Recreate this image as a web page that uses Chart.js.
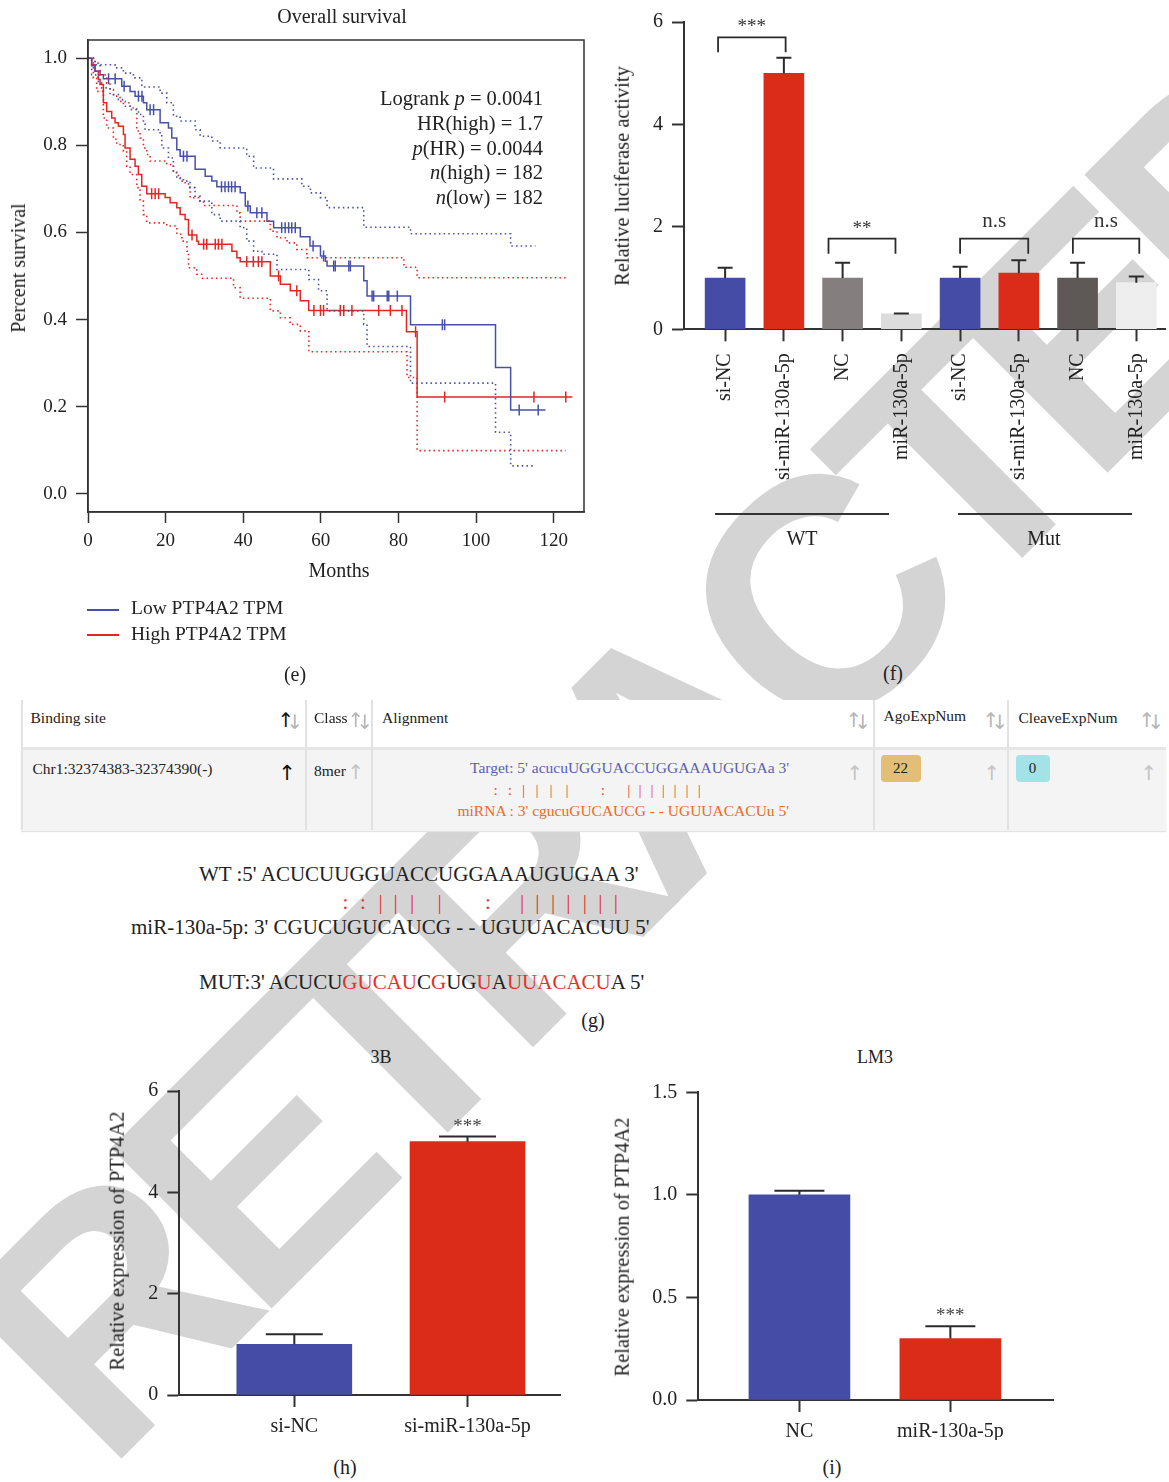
<!DOCTYPE html>
<html>
<head>
<meta charset="utf-8">
<script src="https://cdn.jsdelivr.net/npm/chart.js@4.4.1/dist/chart.umd.min.js"></script>
<style>
  html, body { margin: 0; padding: 0; background: #fff; }
  #page { position: relative; width: 1169px; height: 1482px; overflow: hidden; font-family: 'Liberation Serif', serif; color: #222; }
  canvas { position: absolute; z-index: 1; }
  .t { position: absolute; z-index: 2; white-space: nowrap; line-height: 1; }
  .box { position: absolute; z-index: 1; }
  #wm { position: absolute; z-index: 0; left: 662px; top: 757px; transform: translate(-50%, -50%) rotate(-45deg);
        font: bold 330px 'Liberation Sans', sans-serif; letter-spacing: -26px; color: #d4d4d4; white-space: nowrap; line-height: 1; }
</style>
</head>
<body>
<div id="page"><div id="wm">RETRACTED</div></div>
<script>
// ==================================================
// DATA
// ==================================================
// (e) Kaplan-Meier, months / survival
const lowT = [0, 0.95, 1.81, 3.1, 3.96, 8.69, 10.84, 12.13, 14.28, 15.14, 18.58, 20.73, 21.59, 22.88, 23.74, 27.61, 30.19, 31.91, 33.2, 39.22, 40.52, 41.81, 46.11, 47.83, 54.7, 57.2, 59.9, 61.16, 61.6, 71.05, 71.9, 83.1, 105.0, 108.9, 117.9];
const lowS = [1.0, 0.983, 0.97, 0.962, 0.953, 0.936, 0.924, 0.913, 0.898, 0.882, 0.852, 0.84, 0.817, 0.79, 0.775, 0.745, 0.729, 0.718, 0.705, 0.691, 0.661, 0.645, 0.626, 0.611, 0.59, 0.569, 0.546, 0.534, 0.523, 0.489, 0.454, 0.388, 0.29, 0.192, 0.192];
const highT = [0, 0.95, 1.81, 2.67, 3.1, 3.96, 4.82, 6.11, 6.97, 7.83, 9.12, 9.55, 10.84, 12.13, 12.99, 13.85, 15.14, 19.87, 21.16, 22.88, 23.74, 25.03, 25.89, 28.04, 28.47, 37.08, 38.36, 39.22, 46.97, 49.55, 52.13, 54.7, 56.86, 82.06, 84.8, 124.8];
const highS = [1.0, 0.985, 0.97, 0.951, 0.94, 0.898, 0.878, 0.863, 0.852, 0.844, 0.825, 0.794, 0.768, 0.752, 0.733, 0.706, 0.689, 0.68, 0.668, 0.657, 0.641, 0.63, 0.594, 0.58, 0.573, 0.557, 0.542, 0.533, 0.5, 0.481, 0.466, 0.443, 0.421, 0.372, 0.222, 0.222];
const lowUpT = [0, 1.81, 6.97, 9.12, 11.7, 13.85, 18.58, 20.3, 22.0, 23.74, 27.6, 28.9, 31.9, 34.06, 40.9, 42.67, 47.8, 55.1, 57.3, 59.9, 61.6, 71.05, 83.1, 108.9, 115.3];
const lowUpS = [1.0, 0.985, 0.978, 0.966, 0.955, 0.934, 0.92, 0.898, 0.867, 0.856, 0.836, 0.821, 0.81, 0.794, 0.775, 0.748, 0.723, 0.706, 0.691, 0.68, 0.657, 0.612, 0.597, 0.569, 0.569];
const lowLoT = [0, 0.95, 2.67, 3.53, 5.68, 7.83, 9.12, 10.84, 12.99, 14.28, 14.7, 18.58, 19.0, 20.73, 22.0, 22.88, 23.74, 26.3, 27.6, 28.9, 31.9, 34.06, 39.2, 40.9, 42.67, 44.8, 48.7, 56.9, 59.4, 61.6, 71.05, 71.9, 83.1, 105.0, 108.9, 115.3];
const lowLoS = [1.0, 0.962, 0.943, 0.932, 0.917, 0.905, 0.89, 0.882, 0.871, 0.856, 0.836, 0.825, 0.794, 0.771, 0.741, 0.725, 0.718, 0.703, 0.683, 0.672, 0.641, 0.626, 0.611, 0.58, 0.557, 0.55, 0.515, 0.492, 0.466, 0.42, 0.389, 0.338, 0.254, 0.141, 0.064, 0.064];
const highUpT = [0, 1.81, 3.1, 4.82, 5.68, 6.54, 8.26, 9.55, 10.84, 12.56, 13.42, 14.28, 15.14, 16.0, 20.3, 22.0, 23.3, 24.6, 25.9, 26.3, 28.5, 29.76, 38.36, 39.22, 46.97, 48.7, 51.3, 53.8, 56.4, 81.4, 84.8, 123.1];
const highUpS = [1.0, 0.989, 0.962, 0.943, 0.928, 0.913, 0.901, 0.898, 0.886, 0.833, 0.817, 0.794, 0.779, 0.764, 0.756, 0.737, 0.725, 0.714, 0.703, 0.68, 0.672, 0.662, 0.645, 0.626, 0.603, 0.588, 0.576, 0.561, 0.542, 0.52, 0.496, 0.496];
const highLoT = [0, 1.38, 2.24, 3.96, 4.82, 6.54, 7.4, 9.12, 9.98, 10.84, 12.56, 13.42, 14.28, 15.14, 20.3, 22.9, 24.2, 25.5, 25.9, 28.0, 29.3, 37.5, 39.2, 46.97, 49.55, 52.1, 54.7, 56.9, 82.2, 84.8, 123.1];
const highLoS = [1.0, 0.955, 0.924, 0.863, 0.84, 0.814, 0.802, 0.787, 0.752, 0.733, 0.703, 0.672, 0.641, 0.622, 0.615, 0.596, 0.58, 0.557, 0.519, 0.504, 0.495, 0.473, 0.449, 0.42, 0.404, 0.389, 0.374, 0.326, 0.267, 0.099, 0.099];
const lowCens = [5.3, 7.0, 9.3, 13.0, 13.9, 16.0, 16.9, 24.6, 25.5, 34.4, 35.3, 36.2, 37.0, 37.9, 41.2, 43.5, 44.8, 49.9, 50.8, 51.7, 52.5, 53.4, 58.0, 60.7, 63.3, 63.7, 67.2, 67.6, 73.2, 73.6, 77.1, 77.5, 79.7, 91.3, 91.9, 111.1, 116.0];
const highCens = [16.4, 17.3, 18.2, 26.8, 29.8, 30.6, 32.8, 33.6, 34.5, 40.9, 42.6, 43.9, 44.8, 49.1, 53.8, 58.2, 59.9, 60.7, 65.0, 65.9, 68.0, 74.9, 77.9, 80.9, 84.4, 91.9, 114.9, 123.1];
const kmXTicks = [0, 20, 40, 60, 80, 100, 120];
const kmYTicks = [0, 0.2, 0.4, 0.6, 0.8, 1.0];

// (f) luciferase
const fCats = ['si-NC', 'si-miR-130a-5p', 'NC', 'miR-130a-5p', 'si-NC', 'si-miR-130a-5p', 'NC', 'miR-130a-5p'];
const fVals = [1.0, 5.0, 1.0, 0.3, 1.0, 1.1, 1.0, 0.91];
const fErr = [1.2, 5.3, 1.3, 0.31, 1.22, 1.35, 1.3, 1.03];
const fColors = ['#454ca6', '#db2b19', '#847f7e', '#dcdcdc', '#454ca6', '#db2b19', '#5e5957', '#eeeeee'];
// bracket ends, in category units (drawn by hand in the original, so not exactly on bar centres)
const fPairs = [[-0.12, 1.03], [1.76, 2.9], [4.0, 5.16], [5.92, 7.05]];
const fSigLevel = [5.7, 1.77, 1.77, 1.77];
const fSig = ['***', '**', 'n.s', 'n.s'];
const fYTicks = [0, 2, 4, 6];

// (h) 3B
const hCats = ['si-NC', 'si-miR-130a-5p'];
const hVals = [1.0, 5.0];
const hErr = [1.2, 5.1];
const hSig = ['', '***'];
const hYTicks = [0, 2, 4, 6];

// (i) LM3
const iCats = ['NC', 'miR-130a-5p'];
const iVals = [1.0, 0.3];
const iErr = [1.02, 0.36];
const iSig = ['', '***'];
const iYTicks = [0, 0.5, 1.0, 1.5];

const BLUE = '#4750ab';
const RED = '#e3261f';
const INK = '#2b2b2b';

// ==================================================
// HELPERS
// ==================================================
const page = document.getElementById('page');
Chart.defaults.font.family = "'Liberation Serif', serif";
Chart.defaults.color = '#222';

function mkCanvas(x, y, w, h) {
  const c = document.createElement('canvas');
  c.width = w; c.height = h;
  c.style.left = x + 'px'; c.style.top = y + 'px';
  page.appendChild(c);
  return c;
}

function txt(html, x, y, o = {}) {
  const d = document.createElement('div');
  d.className = 't';
  d.innerHTML = html;
  d.style.left = x + 'px';
  d.style.top = y + 'px';
  d.style.fontSize = (o.size || 20) + 'px';
  if (o.color) d.style.color = o.color;
  if (o.font) d.style.fontFamily = o.font;
  const ax = o.align === 'left' ? '0' : o.align === 'right' ? '-100%' : '-50%';
  d.style.transform = `translate(${ax},-50%)` + (o.rot ? ` rotate(${o.rot}deg)` : '');
  page.appendChild(d);
  return d;
}

function rect(x, y, w, h, bg, extra) {
  const d = document.createElement('div');
  d.className = 'box';
  Object.assign(d.style, { left: x + 'px', top: y + 'px', width: w + 'px', height: h + 'px', background: bg }, extra || {});
  page.appendChild(d);
  return d;
}

function survAt(ts, ss, t) {
  let v = ss[0];
  for (let i = 0; i < ts.length; i++) if (ts[i] <= t) v = ss[i];
  return v;
}

function stepSet(ts, ss, color, dotted) {
  return {
    data: ts.map((t, i) => ({ x: t, y: ss[i] })),
    borderColor: color,
    borderWidth: dotted ? 1.6 : 1.5,
    borderDash: dotted ? [1.5, 3.2] : [],
    stepped: true,
    pointRadius: 0,
    fill: false,
  };
}

function censorSet(cs, ts, ss, color) {
  return {
    data: cs.map((t) => ({ x: t, y: survAt(ts, ss, t) })),
    showLine: false,
    borderColor: color,
    backgroundColor: color,
    pointStyle: 'line',
    pointRotation: 90,
    pointRadius: 5.5,
    pointHoverRadius: 5.5,
    pointBorderWidth: 1.5,
  };
}

const framePlugin = {
  id: 'frame',
  afterDraw(chart) {
    const a = chart.chartArea, ctx = chart.ctx;
    ctx.save();
    ctx.strokeStyle = '#333';
    ctx.lineWidth = 1.5;
    ctx.strokeRect(a.left, a.top, a.right - a.left, a.bottom - a.top);
    ctx.restore();
  },
};

function errorBarPlugin(tops, capW, stars) {
  return {
    id: 'errorBars',
    afterDatasetsDraw(chart) {
      const ctx = chart.ctx, xs = chart.scales.x, ys = chart.scales.y;
      const pts = chart.data.datasets[0].data;
      ctx.save();
      ctx.strokeStyle = INK;
      ctx.lineWidth = 2;
      pts.forEach((p, i) => {
        const x = xs.getPixelForValue(p.x);
        const y0 = ys.getPixelForValue(p.y);
        const y1 = ys.getPixelForValue(tops[i]);
        ctx.beginPath();
        ctx.moveTo(x, y0);
        ctx.lineTo(x, y1);
        ctx.moveTo(x - capW / 2, y1);
        ctx.lineTo(x + capW / 2, y1);
        ctx.stroke();
        if (stars && stars[i]) {
          ctx.fillStyle = '#444';
          ctx.font = "19px 'Liberation Serif'";
          ctx.textAlign = 'center';
          ctx.textBaseline = 'middle';
          ctx.fillText(stars[i], x, y1 - 10);
        }
      });
      ctx.restore();
    },
  };
}

function bracketPlugin(pairs, levels, labels) {
  return {
    id: 'brackets',
    afterDatasetsDraw(chart) {
      const ctx = chart.ctx, xs = chart.scales.x, ys = chart.scales.y;
      ctx.save();
      ctx.strokeStyle = INK;
      ctx.fillStyle = '#333';
      ctx.lineWidth = 1.8;
      ctx.textAlign = 'center';
      ctx.textBaseline = 'middle';
      pairs.forEach((p, i) => {
        const x0 = xs.getPixelForValue(p[0]);
        const x1 = xs.getPixelForValue(p[1]);
        const y = ys.getPixelForValue(levels[i]);
        ctx.beginPath();
        ctx.moveTo(x0, y + 15);
        ctx.lineTo(x0, y);
        ctx.lineTo(x1, y);
        ctx.lineTo(x1, y + 15);
        ctx.stroke();
        const star = labels[i].startsWith('*');
        ctx.font = (star ? '19px' : '21px') + " 'Liberation Serif'";
        ctx.fillText(labels[i], (x0 + x1) / 2, y - (star ? 10 : 17));
      });
      ctx.restore();
    },
  };
}

function barChart(canvas, o) {
  return new Chart(canvas, {
    type: 'bar',
    data: {
      datasets: [{
        data: o.vals.map((v, i) => ({ x: i, y: v })),
        backgroundColor: o.colors,
        barThickness: o.barW,
        borderWidth: 0,
      }],
    },
    options: {
      animation: false,
      responsive: false,
      devicePixelRatio: 1,
      layout: { padding: { left: 0, top: o.padTop, right: o.padRight, bottom: 0 } },
      plugins: { legend: { display: false }, tooltip: { enabled: false } },
      scales: {
        x: {
          type: 'linear', offset: false, min: o.xMin, max: o.xMax,
          afterBuildTicks: (s) => { s.ticks = o.cats.map((c, i) => ({ value: i })); },
          afterFit: (s) => { s.height = o.xH; },
          grid: { display: true, offset: false, drawOnChartArea: false, tickLength: 12, tickColor: '#333', tickWidth: 2 },
          border: { display: true, color: '#333', width: 2 },
          ticks: {
            autoSkip: false, minRotation: o.rot || 0, maxRotation: o.rot || 0, padding: o.xPad,
            font: { size: 20 }, color: '#222', callback: (v, i) => o.cats[i],
          },
        },
        y: {
          type: 'linear', min: 0, max: o.yMax,
          afterBuildTicks: (s) => { s.ticks = o.yTicks.map((v) => ({ value: v })); },
          afterFit: (s) => { s.width = o.yW; },
          grid: { display: true, drawOnChartArea: false, tickLength: 12, tickColor: '#333', tickWidth: 2 },
          border: { display: true, color: '#333', width: 2 },
          ticks: { padding: 9, font: { size: 20 }, color: '#222', callback: o.yFmt || ((v) => v) },
        },
      },
    },
    plugins: [errorBarPlugin(o.errs, o.capW, o.stars)].concat(o.extra || []),
  });
}

// ==================================================
// (e) SURVIVAL CURVE
// ==================================================
new Chart(mkCanvas(0, 0, 600, 560), {
  type: 'line',
  data: {
    datasets: [
      stepSet(lowUpT, lowUpS, BLUE, true),
      stepSet(lowLoT, lowLoS, BLUE, true),
      stepSet(highUpT, highUpS, RED, true),
      stepSet(highLoT, highLoS, RED, true),
      stepSet(lowT, lowS, BLUE, false),
      stepSet(highT, highS, RED, false),
      censorSet(lowCens, lowT, lowS, BLUE),
      censorSet(highCens, highT, highS, RED),
    ],
  },
  options: {
    animation: false,
    responsive: false,
    devicePixelRatio: 1,
    layout: { padding: { left: 0, right: 16, top: 40, bottom: 0 } },
    plugins: { legend: { display: false }, tooltip: { enabled: false } },
    scales: {
      x: {
        type: 'linear', min: 0, max: 127.8,
        afterBuildTicks: (s) => { s.ticks = kmXTicks.map((v) => ({ value: v })); },
        afterFit: (s) => { s.height = 48; },
        grid: { display: true, drawOnChartArea: false, tickLength: 11, tickColor: '#333', tickWidth: 1.5 },
        border: { display: true, color: '#333', width: 1.5 },
        ticks: { padding: 7, maxRotation: 0, font: { size: 19 }, color: '#222' },
      },
      y: {
        type: 'linear', min: -0.042, max: 1.042,
        afterBuildTicks: (s) => { s.ticks = kmYTicks.map((v) => ({ value: v })); },
        afterFit: (s) => { s.width = 88; },
        grid: { display: true, drawOnChartArea: false, tickLength: 12, tickColor: '#333', tickWidth: 1.5 },
        border: { display: true, color: '#333', width: 1.5 },
        ticks: { padding: 9, font: { size: 19 }, color: '#222', callback: (v) => v.toFixed(1) },
      },
    },
  },
  plugins: [framePlugin],
});

txt('Overall survival', 342, 16, { size: 20 });
txt('Percent survival', 18, 268, { size: 20, rot: -90 });
txt('Months', 339, 570, { size: 20 });
txt('Logrank <i>p</i> = 0.0041', 543, 98, { size: 20.5, align: 'right' });
txt('HR(high) = 1.7', 543, 123, { size: 20.5, align: 'right' });
txt('<i>p</i>(HR) = 0.0044', 543, 148, { size: 20.5, align: 'right' });
txt('<i>n</i>(high) = 182', 543, 172, { size: 20.5, align: 'right' });
txt('<i>n</i>(low) = 182', 543, 197, { size: 20.5, align: 'right' });
rect(87, 609, 32, 1.5, BLUE, { zIndex: 2 });
rect(87, 634, 32, 1.5, RED, { zIndex: 2 });
txt('Low PTP4A2 TPM', 131, 608, { size: 19.5, align: 'left' });
txt('High PTP4A2 TPM', 131, 634, { size: 19.5, align: 'left' });
txt('(e)', 295, 674, { size: 20 });

// ==================================================
// (f) LUCIFERASE
// ==================================================
barChart(mkCanvas(600, 0, 580, 560), {
  vals: fVals, errs: fErr, colors: fColors, cats: fCats, stars: null,
  barW: 40, capW: 15, xMin: -0.7, xMax: 7.5, yMax: 6, yTicks: fYTicks,
  padTop: 22, padRight: 14.3, yW: 84, xH: 230.7, rot: 90, xPad: 12,
  extra: [bracketPlugin(fPairs, fSigLevel, fSig)],
});
txt('Relative luciferase activity', 622, 176, { size: 20.5, rot: -90 });
rect(715, 513, 174, 1.5, '#333', { zIndex: 2 });
rect(958, 513, 174, 1.5, '#333', { zIndex: 2 });
txt('WT', 802, 538, { size: 20 });
txt('Mut', 1044, 538, { size: 20 });
txt('(f)', 893, 673, { size: 20 });

// ==================================================
// (g) BINDING SITE TABLE + SEQUENCES
// ==================================================
rect(21, 700, 1145, 47, '#ffffff');
rect(21, 747, 1145, 2.5, '#e6e6e6');
rect(21, 749.5, 1145, 81, '#f4f4f4', { boxShadow: '0 1px 1px #e2e2e2' });
[21, 305, 371, 873, 1007].forEach((x) => rect(x, 700, 1.5, 130, '#e2e2e2', { zIndex: 2 }));

const GRAY = '#b5b5b5';
const AR = "'DejaVu Sans', sans-serif";
txt('Binding site', 30.5, 718, { size: 15.5, align: 'left' });
txt('↑', 286, 720, { size: 20, font: AR, color: '#111' });
txt('↓', 295, 722, { size: 20, font: AR, color: GRAY });
txt('Class', 314, 718, { size: 15.5, align: 'left' });
txt('↑', 356, 720, { size: 20, font: AR, color: GRAY });
txt('↓', 365, 722, { size: 20, font: AR, color: GRAY });
txt('Alignment', 382, 718, { size: 15.5, align: 'left' });
txt('↑', 854, 720, { size: 20, font: AR, color: GRAY });
txt('↓', 863, 722, { size: 20, font: AR, color: GRAY });
txt('AgoExpNum', 883.5, 716, { size: 15.5, align: 'left' });
txt('↑', 991, 720, { size: 20, font: AR, color: GRAY });
txt('↓', 1000, 722, { size: 20, font: AR, color: GRAY });
txt('CleaveExpNum', 1018.5, 718, { size: 15.5, align: 'left' });
txt('↑', 1147, 720, { size: 20, font: AR, color: GRAY });
txt('↓', 1156, 722, { size: 20, font: AR, color: GRAY });

txt('Chr1:32374383-32374390(-)', 32.5, 769, { size: 15.5, align: 'left' });
txt('↑', 287, 773, { size: 21, font: AR, color: '#111' });
txt('8mer', 314, 771, { size: 15.5, align: 'left' });
txt('↑', 356, 772, { size: 20, font: AR, color: '#c4c4c4' });
txt("Target: 5' acucuUGGUACCUGGAAAUGUGAa 3'", 789, 768, { size: 15.5, align: 'right', color: '#5860b6' });
const tMarks = [':', ':', '|', '|', '|', '|', ':', '|', '|', '|', '|', '|', '|', '|'];
const tMarkX = [495.6, 510, 523.5, 537, 551, 567, 603, 628.8, 640, 652, 663.4, 675, 687, 699.4];
tMarks.forEach((m, i) => txt(m, tMarkX[i], 790, { size: 15.5, color: '#e6473b' }));
txt("miRNA : 3' cgucuGUCAUCG - - UGUUACACUu 5'", 789, 811, { size: 15.5, align: 'right', color: '#ec6a25' });
txt('↑', 855, 773, { size: 20, font: AR, color: '#c4c4c4' });
rect(880.5, 754.5, 40, 27, '#e2be76', { borderRadius: '4px', zIndex: 2 });
txt('22', 900.5, 768, { size: 15, color: '#222' });
txt('↑', 992, 773, { size: 20, font: AR, color: '#c4c4c4' });
rect(1015.5, 754.5, 34, 27, '#a3e3e7', { borderRadius: '4px', zIndex: 2 });
txt('0', 1032.5, 768, { size: 15, color: '#222' });
txt('↑', 1149, 773, { size: 20, font: AR, color: '#c4c4c4' });

const SR = '#e3322a';
txt("WT :5' ACUCUUGGUACCUGGAAAUGUGAA 3'", 199, 874, { size: 21, align: 'left' });
const wMarkX = [345.5, 362.8, 380.7, 395.5, 412, 439.6, 487.8, 522.2, 537.4, 553.2, 568.3, 584.9, 600.4, 615.9];
tMarks.forEach((m, i) => txt(m, wMarkX[i], 902, { size: 21, color: SR }));
txt("miR-130a-5p: 3' CGUCUGUCAUCG - - UGUUACACUU 5'", 131, 927, { size: 21, align: 'left' });
txt("MUT:3' ACUCU<span style='color:" + SR + "'>GUCAU</span>C<span style='color:" + SR + "'>G</span>UG<span style='color:" + SR +
    "'>U</span>A<span style='color:" + SR + "'>UUACACU</span>A 5'", 199, 982, { size: 21, align: 'left' });
txt('(g)', 593, 1020, { size: 20 });

// ==================================================
// (h) 3B  /  (i) LM3
// ==================================================
barChart(mkCanvas(100, 1070, 470, 370), {
  vals: hVals, errs: hErr, colors: ['#454ca6', '#db2b19'], cats: hCats, stars: hSig,
  barW: 115, capW: 57, xMin: -0.664, xMax: 1.534, yMax: 6, yTicks: hYTicks,
  padTop: 17.3, padRight: 10, yW: 79.3, xH: 45, xPad: 8,
});
txt('3B', 381, 1057, { size: 18 });
txt('Relative expression of PTP4A2', 117, 1241, { size: 20.5, rot: -90 });
txt('(h)', 345, 1467, { size: 20 });

barChart(mkCanvas(610, 1070, 460, 370), {
  vals: iVals, errs: iErr, colors: ['#454ca6', '#db2b19'], cats: iCats, stars: iSig,
  barW: 101, capW: 50, xMin: -0.67, xMax: 1.68, yMax: 1.5, yTicks: iYTicks,
  padTop: 22.3, padRight: 17, yW: 88.3, xH: 40, xPad: 8, yFmt: (v) => v.toFixed(1),
});
txt('LM3', 875, 1057, { size: 18 });
txt('Relative expression of PTP4A2', 622, 1247, { size: 20.5, rot: -90 });
txt('(i)', 832, 1467, { size: 20 });
</script>
</body>
</html>
